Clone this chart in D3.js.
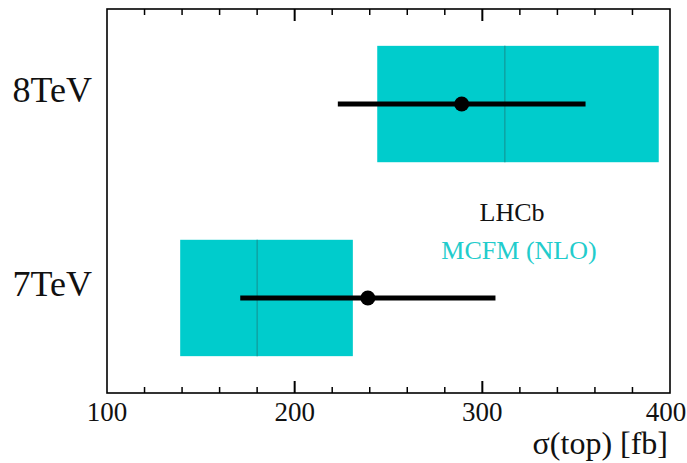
<!DOCTYPE html>
<html>
<head>
<meta charset="utf-8">
<script src="https://cdn.jsdelivr.net/npm/d3@7"></script>
<style>
  html, body { margin: 0; padding: 0; background: #fff; }
  svg { display: block; }
  text { font-family: "Liberation Serif", "DejaVu Serif", serif; }
</style>
</head>
<body>
<div id="chart"></div>
<script>
// Energies (top to bottom)
const energies = ["8TeV", "7TeV"];
// LHCb measured cross-section and total uncertainty [fb]
const measured = [289, 239];
const measuredErr = [66, 68];
// MCFM (NLO) prediction: central value with lower / upper edges [fb]
const mcfmCentral = [312, 180];
const mcfmLow = [244, 139];
const mcfmHigh = [394, 231];
// x-axis tick labels
const xTickValues = [100, 200, 300, 400];

const W = 687, H = 463;
const margin = { left: 107, right: 17, top: 9, bottom: 70 };
const x0 = margin.left, x1 = W - margin.right;
const y0 = margin.top, y1 = H - margin.bottom;

const svg = d3.select("#chart").append("svg")
  .attr("width", W).attr("height", H);

const x = d3.scaleLinear().domain([100, 400]).range([x0, x1]);
const y = d3.scalePoint().domain(energies).range([y0, y1]).padding(0.49);
const boxH = y.step() * 0.6;

const rows = energies.map((e, i) => ({
  e, m: measured[i], err: measuredErr[i],
  c: mcfmCentral[i], lo: mcfmLow[i], hi: mcfmHigh[i]
}));

// MCFM prediction bands
svg.selectAll("rect.band").data(rows).join("rect")
  .attr("class", "band")
  .attr("x", d => x(d.lo))
  .attr("width", d => x(d.hi) - x(d.lo))
  .attr("y", d => y(d.e) - boxH / 2)
  .attr("height", boxH)
  .attr("fill", "#00cccc");

// MCFM central values
svg.selectAll("line.central").data(rows).join("line")
  .attr("class", "central")
  .attr("x1", d => x(d.c)).attr("x2", d => x(d.c))
  .attr("y1", d => y(d.e) - boxH / 2).attr("y2", d => y(d.e) + boxH / 2)
  .attr("stroke", "#119999").attr("stroke-width", 1.2);

// Measurement error bars
svg.selectAll("line.err").data(rows).join("line")
  .attr("class", "err")
  .attr("x1", d => x(d.m - d.err)).attr("x2", d => x(d.m + d.err))
  .attr("y1", d => y(d.e)).attr("y2", d => y(d.e))
  .attr("stroke", "#000").attr("stroke-width", 5);

svg.selectAll("circle.pt").data(rows).join("circle")
  .attr("class", "pt")
  .attr("cx", d => x(d.m)).attr("cy", d => y(d.e))
  .attr("r", 7.5).attr("fill", "#000");

// Frame
svg.append("rect")
  .attr("x", x0).attr("y", y0)
  .attr("width", x1 - x0).attr("height", y1 - y0)
  .attr("fill", "none").attr("stroke", "#000").attr("stroke-width", 1.6);

// Ticks on bottom and top edges
const minorTicks = d3.range(120, 400, 20).filter(v => v % 100 !== 0);
const majorTicks = [200, 300];
const tickG = svg.append("g").attr("stroke", "#000");
[[y1, -1], [y0, 1]].forEach(([yy, dir]) => {
  tickG.selectAll(null).data(minorTicks).join("line")
    .attr("x1", d => x(d)).attr("x2", d => x(d))
    .attr("y1", yy).attr("y2", yy + dir * 6)
    .attr("stroke-width", 1.5);
  tickG.selectAll(null).data(majorTicks).join("line")
    .attr("x1", d => x(d)).attr("x2", d => x(d))
    .attr("y1", yy).attr("y2", yy + dir * 12)
    .attr("stroke-width", 2);
});

// Bottom tick labels (the last one kept inside the page edge)
svg.selectAll("text.xtick").data(xTickValues).join("text")
  .attr("class", "xtick")
  .attr("x", d => Math.min(x(d), W - 21)).attr("y", y1 + 28)
  .attr("text-anchor", "middle")
  .attr("font-size", 27)
  .attr("fill", "#111")
  .text(d => d);

// Category labels
svg.selectAll("text.cat").data(energies).join("text")
  .attr("class", "cat")
  .attr("x", x0 - 15).attr("y", d => y(d) - 2)
  .attr("text-anchor", "end")
  .attr("font-size", 36)
  .attr("fill", "#111")
  .text(d => d);

// Axis title
svg.append("text")
  .attr("x", x1 - 2).attr("y", 454)
  .attr("text-anchor", "end")
  .attr("font-size", 32)
  .attr("fill", "#111")
  .text("σ(top) [fb]");

// Legend
svg.append("text")
  .attr("x", 512).attr("y", 221)
  .attr("text-anchor", "middle")
  .attr("font-size", 26)
  .attr("fill", "#111")
  .text("LHCb");
svg.append("text")
  .attr("x", 519).attr("y", 259)
  .attr("text-anchor", "middle")
  .attr("font-size", 26)
  .attr("fill", "#22cccc")
  .text("MCFM (NLO)");
</script>
</body>
</html>
